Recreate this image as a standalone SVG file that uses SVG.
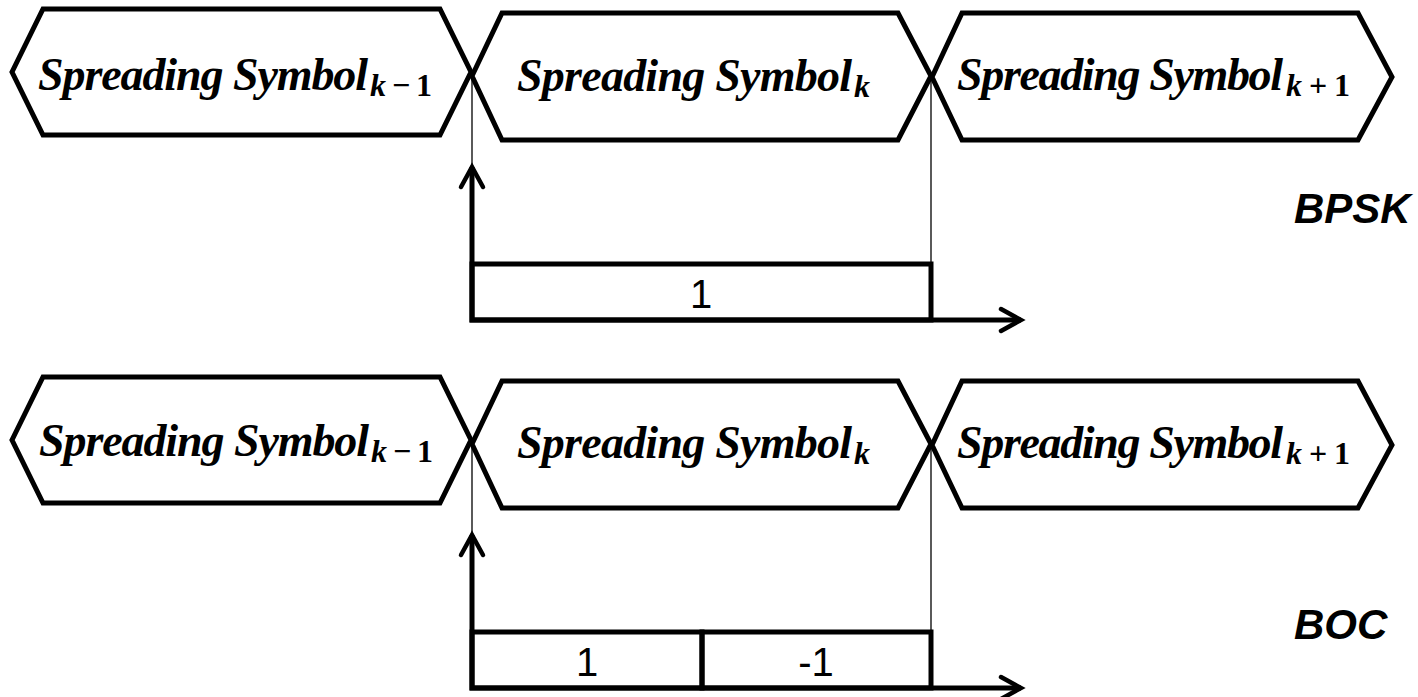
<svg xmlns="http://www.w3.org/2000/svg" width="1418" height="697" viewBox="0 0 1418 697">
  <style>
    .hex { fill: #ffffff; stroke: #000000; stroke-width: 5; stroke-linejoin: miter; }
    .sym { font-family: "Liberation Serif", "Times New Roman", serif; font-weight: bold; font-style: italic; font-size: 46px; fill: #000000; }
    .sub { font-family: "Liberation Serif", "Times New Roman", serif; font-weight: bold; font-style: normal; font-size: 32px; fill: #000000; }
    .it { font-style: italic; }
    .chip { fill: none; stroke: #000000; stroke-width: 5; }
    .val { font-family: "Liberation Sans", Arial, sans-serif; font-size: 40px; fill: #000000; text-anchor: middle; }
    .mod { font-family: "Liberation Sans", Arial, sans-serif; font-weight: bold; font-style: italic; font-size: 42px; fill: #000000; }
    .axis { fill: none; stroke: #000000; stroke-width: 5; stroke-linejoin: miter; }
    .edge { fill: none; stroke: #000000; stroke-width: 1.3; }
  </style>
  <defs>
    <marker id="vhead" markerUnits="userSpaceOnUse" viewBox="-26 -16 32 32" markerWidth="32" markerHeight="32" refX="0" refY="0" orient="auto-start-reverse" overflow="visible">
      <path d="M-20,-11 L0,0 L-20,11" fill="none" stroke="#000000" stroke-width="4.5" stroke-linecap="round" stroke-linejoin="miter"/>
    </marker>
  </defs>

  <rect width="1418" height="697" fill="#ffffff"/>

  <!-- BPSK row: symbol sequence -->
  <g id="bpsk-symbol-prev">
    <polygon class="hex" points="12,72 43,9 440,9 471,72 440,135 43,135"/>
    <text class="sym" x="38" y="90" textLength="330" lengthAdjust="spacing">Spreading Symbol</text>
    <text class="sub" x="370" y="96" textLength="62" lengthAdjust="spacing"><tspan class="it">k</tspan>−1</text>
  </g>
  <g id="bpsk-symbol-cur">
    <polygon class="hex" points="472,76 502,13 898,13 931,76 898,140 502,140"/>
    <text class="sym" x="517" y="91" textLength="335" lengthAdjust="spacing">Spreading Symbol</text>
    <text class="sub it" x="854" y="97">k</text>
  </g>
  <g id="bpsk-symbol-next">
    <polygon class="hex" points="932,77 962,13 1358,13 1392,77 1358,140 962,140"/>
    <text class="sym" x="957" y="90" textLength="326" lengthAdjust="spacing">Spreading Symbol</text>
    <text class="sub" x="1286" y="96" textLength="64" lengthAdjust="spacing"><tspan class="it">k</tspan>+1</text>
  </g>

  <!-- BPSK chip waveform -->
  <g id="bpsk-chip">
    <rect class="chip" x="472" y="264" width="459" height="56"/>
    <text class="val" x="701" y="308">1</text>
  </g>
  <g id="bpsk-label">
    <text class="mod" x="1294" y="223">BPSK</text>
  </g>

  <!-- BOC row: symbol sequence -->
  <g id="boc-symbol-prev">
    <polygon class="hex" points="12,440 43,377 440,377 471,440 440,503 43,503"/>
    <text class="sym" x="39" y="456" textLength="330" lengthAdjust="spacing">Spreading Symbol</text>
    <text class="sub" x="371" y="462" textLength="62" lengthAdjust="spacing"><tspan class="it">k</tspan>−1</text>
  </g>
  <g id="boc-symbol-cur">
    <polygon class="hex" points="472,444 502,381 898,381 931,444 898,508 502,508"/>
    <text class="sym" x="517" y="458" textLength="335" lengthAdjust="spacing">Spreading Symbol</text>
    <text class="sub it" x="854" y="464">k</text>
  </g>
  <g id="boc-symbol-next">
    <polygon class="hex" points="932,445 962,381 1358,381 1392,445 1358,508 962,508"/>
    <text class="sym" x="957" y="458" textLength="326" lengthAdjust="spacing">Spreading Symbol</text>
    <text class="sub" x="1286" y="464" textLength="64" lengthAdjust="spacing"><tspan class="it">k</tspan>+1</text>
  </g>

  <!-- BOC chip waveform: two half-chips -->
  <g id="boc-chip-pos">
    <rect class="chip" x="472" y="632" width="230" height="56"/>
    <text class="val" x="587" y="676">1</text>
  </g>
  <g id="boc-chip-neg">
    <rect class="chip" x="702" y="632" width="229" height="56"/>
    <text class="val" x="816" y="676">-1</text>
  </g>
  <g id="boc-label">
    <text class="mod" x="1294" y="639">BOC</text>
  </g>

  <!-- connectors: symbol boundaries and time/amplitude axes -->
  <g id="connectors">
    <line class="edge" x1="472" y1="74" x2="472" y2="170"/>
    <line class="edge" x1="931" y1="76" x2="931" y2="264"/>
    <path class="axis" d="M472,167 L472,320 L1021,320" marker-start="url(#vhead)" marker-end="url(#vhead)"/>

    <line class="edge" x1="472" y1="442" x2="472" y2="538"/>
    <line class="edge" x1="931" y1="444" x2="931" y2="632"/>
    <path class="axis" d="M472,535 L472,688 L1021,688" marker-start="url(#vhead)" marker-end="url(#vhead)"/>
  </g>
</svg>
